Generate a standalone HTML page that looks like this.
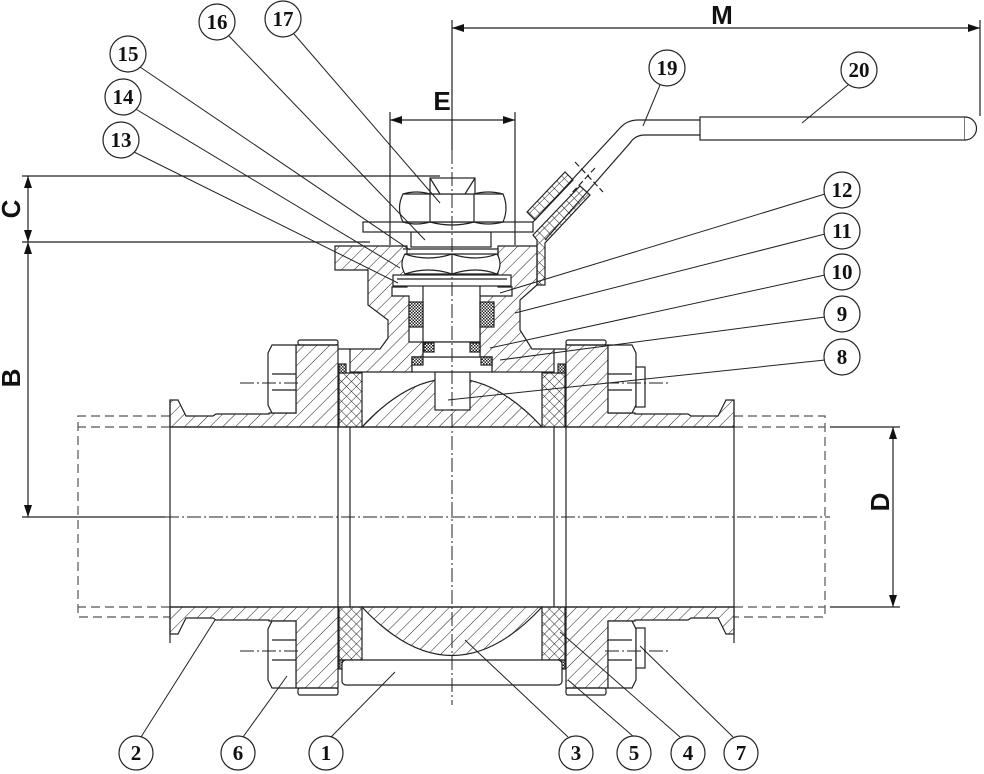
<!DOCTYPE html>
<html><head><meta charset="utf-8"><style>
html,body{margin:0;padding:0;background:#fff}
svg{display:block}
.b{font-family:"Liberation Serif",serif;font-weight:bold;font-size:21px;text-anchor:middle}
.d{font-family:"Liberation Sans",sans-serif;font-weight:bold;font-size:26px;text-anchor:middle}
</style></head><body>
<svg width="984" height="774" viewBox="0 0 984 774" xmlns="http://www.w3.org/2000/svg">
<defs>
<pattern id="h" width="9" height="9" patternUnits="userSpaceOnUse" patternTransform="rotate(45)">
<line x1="0" y1="0" x2="0" y2="9" stroke="#222" stroke-width="1"/></pattern>
<pattern id="x" width="7" height="7" patternUnits="userSpaceOnUse" patternTransform="rotate(45)">
<line x1="0" y1="0" x2="0" y2="7" stroke="#222" stroke-width="1"/><line x1="0" y1="0" x2="7" y2="0" stroke="#222" stroke-width="1"/></pattern>
<pattern id="f" width="3" height="3" patternUnits="userSpaceOnUse">
<rect width="3" height="3" fill="#fff"/><rect width="1.5" height="1.5" fill="#222"/><rect x="1.5" y="1.5" width="1.5" height="1.5" fill="#222"/></pattern>
<marker id="a" markerWidth="12" markerHeight="8" refX="12" refY="4" orient="auto-start-reverse" markerUnits="userSpaceOnUse"><path d="M0,0L12,4L0,8z" fill="#111"/></marker>
</defs>
<g stroke="#222" stroke-width="1.2" fill="none">
<g stroke-dasharray="9,5" stroke="#555">
<path d="M170,416H78V617H170"/><path d="M170,427H78M170,607H78"/>
<path d="M734,416H825V617H734"/><path d="M734,427H825M734,607H825"/>
</g>
<path d="M170,427H734M170,607H734"/>
<path d="M170,400V643M734,400V643M338,427V607M350,427V607M554,427V607M566,427V607"/>
<path fill="url(#h)" d="M170,400H178L186,416H213L216,414H269V413H296V345H338V427H170Z"/>
<path fill="url(#h)" d="M170,634H178L186,618H213L216,620H269V621H296V688H338V607H170Z"/>
<path fill="url(#h)" d="M734,400H726L718,416H691L688,414H635V413H608V345H566V427H734Z"/>
<path fill="url(#h)" d="M734,634H726L718,618H691L688,620H635V621H608V688H566V607H734Z"/>
<path fill="#fff" d="M272,345H296V413H272L268,405V353Z M272,374H296M272,390H296"/>
<path fill="#fff" d="M272,621H296V688H272L268,680V629Z M272,640H296M272,660H296"/>
<path fill="#fff" d="M632,345H608V413H632L636,405V353Z M608,374H632M608,390H632"/>
<path fill="#fff" d="M632,621H608V688H632L636,680V629Z M608,640H632M608,660H632"/>
<rect x="636" y="367" width="9" height="40" fill="#fff"/>
<rect x="636" y="628" width="9" height="40" fill="#fff"/>
<rect x="298" y="688" width="40" height="7" rx="2"/>
<rect x="566" y="688" width="40" height="7" rx="2"/>
<rect x="298" y="340" width="40" height="5" rx="2"/>
<rect x="566" y="340" width="40" height="5" rx="2"/>
<rect x="339" y="373" width="23" height="54" fill="url(#x)"/>
<rect x="542" y="373" width="23" height="54" fill="url(#x)"/>
<rect x="339" y="607" width="23" height="53" fill="url(#x)"/>
<rect x="542" y="607" width="23" height="53" fill="url(#x)"/>
<rect x="339" y="364" width="7" height="9" fill="url(#f)"/>
<rect x="558" y="364" width="7" height="9" fill="url(#f)"/>
<rect x="339" y="660" width="7" height="9" fill="url(#f)"/>
<rect x="558" y="660" width="7" height="9" fill="url(#f)"/>
<path fill="url(#h)" d="M362,427Q452,330 542,427Z"/>
<path fill="url(#h)" d="M362,607Q452,704 542,607Z"/>
<rect x="435" y="372" width="35" height="38" fill="#fff"/>
<rect x="342" y="660" width="220" height="25" rx="4" fill="#fff"/>
<path fill="url(#h)" d="M350,372H412V357H423V342H409V296H392V287H407V246H335V270H368V305L388,320V338L380,349H350Z"/>
<path fill="url(#h)" d="M554,372H492V357H480V342V296H512V287H498V246H537V285L520,300V330L532,349H554Z"/>
<path d="M338,349H350M554,349H566"/>
<rect x="423" y="285" width="57" height="57" fill="#fff"/>
<rect x="412" y="357" width="80" height="15" fill="#fff"/>
<rect x="423" y="342" width="57" height="15" fill="#fff"/>
<rect x="409" y="302" width="14" height="25" fill="url(#f)"/>
<rect x="480" y="302" width="14" height="25" fill="url(#f)"/>
<rect x="424" y="343" width="10" height="9" fill="url(#f)"/>
<rect x="470" y="343" width="10" height="9" fill="url(#f)"/>
<rect x="412" y="357" width="11" height="8" fill="url(#f)"/>
<rect x="481" y="357" width="11" height="8" fill="url(#f)"/>
<!-- washer 13 -->
<rect x="393" y="275" width="118" height="11" fill="#fff"/>
<path d="M397,279H507"/>
<!-- gland nut 14 with bracket 15 -->
<path d="M403,249H498V272"/>
<path fill="#fff" d="M405,254Q399,264 405,274H497Q503,264 497,254Z"/>
<path d="M405,254Q428,262 452,254Q476,262 497,254M405,274Q428,266 452,274Q476,266 497,274M452,254V274"/>
<!-- stem top/plate -->
<rect x="411" y="232" width="80" height="15" fill="#fff"/>
<rect x="363" y="222" width="170" height="10" fill="#fff"/>
<!-- top nut 17 -->
<path fill="#fff" d="M403,194Q396,208 403,222H503Q509,208 503,194Z"/>
<path d="M430,194V222M474,194V222M403,194Q416,190 430,194Q452,188 474,194Q488,190 503,194M403,222Q416,226 430,222Q452,228 474,222Q488,226 503,222"/>
<rect x="430" y="178" width="45" height="16" fill="#fff"/>
<path d="M430,178L440,194M475,178L465,194"/>
<!-- handle -->
<path d="M533,222L620,128Q627,120 638,120H700M545,240L630,143Q635,135 645,135H700"/>
<rect x="700" y="117" width="265" height="23" fill="#fff"/>
<path fill="#fff" d="M965,117A11.5,11.5 0 0 1 965,140"/>
<path fill="url(#x)" d="M527,212L565,172L573,180L535,220Z"/>
<path fill="url(#x)" d="M533,235L580,186L590,195L545,243V285H537V240Z"/>
<path stroke-dasharray="6,3" d="M575,162L603,192M595,168L570,195"/>
<g stroke-dasharray="14,3,2,3" stroke-width="1">
<path d="M452,150V705"/><path d="M165,517H830"/>
<path d="M240,383H300M240,651H300M605,383H668M605,651H668"/>
</g>
<path d="M22,517H165"/>
<path d="M22,176H440M22,242H370"/>
<path d="M28,176V242" marker-start="url(#a)" marker-end="url(#a)"/>
<path d="M28,242V517" marker-start="url(#a)" marker-end="url(#a)"/>
<path d="M390,112V245M515,112V245"/>
<path d="M390,120H515" marker-start="url(#a)" marker-end="url(#a)"/>
<path d="M452,20V150M980,20V116"/>
<path d="M452,28H980" marker-start="url(#a)" marker-end="url(#a)"/>
<path d="M830,427H900M830,607H900"/>
<path d="M893,427V607" marker-start="url(#a)" marker-end="url(#a)"/>
<g stroke-width="1">
<path d="M229,36L425,240"/><path d="M294,34L440,203"/>
<path d="M140,67L410,250"/><path d="M134,108L400,268"/><path d="M132,151L398,283"/>
<path d="M825,194L500,293"/><path d="M825,234L515,313"/><path d="M825,275L490,348"/><path d="M825,317L500,360"/><path d="M825,360L448,400"/>
<path d="M660,85L643,126"/><path d="M848,85L802,123"/>
<path d="M141,737L215,620"/><path d="M243,737L287,676"/><path d="M331,737L395,672"/>
<path d="M568,737L465,640"/><path d="M634,737L568,680"/><path d="M680,737L560,632"/><path d="M733,737L640,646"/>
</g>
<g fill="#fff">
<circle cx="217" cy="22" r="18"/><circle cx="283" cy="19" r="18"/>
<circle cx="128" cy="54" r="18"/><circle cx="123" cy="97" r="18"/><circle cx="121" cy="140" r="18"/>
<circle cx="842" cy="190" r="18"/><circle cx="842" cy="231" r="18"/><circle cx="842" cy="272" r="18"/><circle cx="842" cy="314" r="18"/><circle cx="842" cy="357" r="18"/>
<circle cx="667" cy="68" r="18"/><circle cx="859" cy="70" r="18"/>
<circle cx="136" cy="753" r="17"/><circle cx="238" cy="753" r="17"/><circle cx="326" cy="753" r="17"/><circle cx="576" cy="753" r="17"/><circle cx="634" cy="753" r="17"/><circle cx="688" cy="753" r="17"/><circle cx="741" cy="753" r="17"/>
</g>
</g>
<g fill="#111">
<text class="b" x="217" y="29">16</text><text class="b" x="283" y="26">17</text>
<text class="b" x="128" y="61">15</text><text class="b" x="123" y="104">14</text><text class="b" x="121" y="147">13</text>
<text class="b" x="842" y="197">12</text><text class="b" x="842" y="238">11</text><text class="b" x="842" y="279">10</text><text class="b" x="842" y="321">9</text><text class="b" x="842" y="364">8</text>
<text class="b" x="667" y="75">19</text><text class="b" x="859" y="77">20</text>
<text class="b" x="136" y="760">2</text><text class="b" x="238" y="760">6</text><text class="b" x="326" y="760">1</text><text class="b" x="576" y="760">3</text><text class="b" x="634" y="760">5</text><text class="b" x="688" y="760">4</text><text class="b" x="741" y="760">7</text>
<text class="d" x="722" y="24">M</text>
<text class="d" x="442" y="110">E</text>
<text class="d" transform="translate(20,209) rotate(-90)">C</text>
<text class="d" transform="translate(20,378) rotate(-90)">B</text>
<text class="d" transform="translate(889,502) rotate(-90)">D</text>
</g>
</svg>
</body></html>
